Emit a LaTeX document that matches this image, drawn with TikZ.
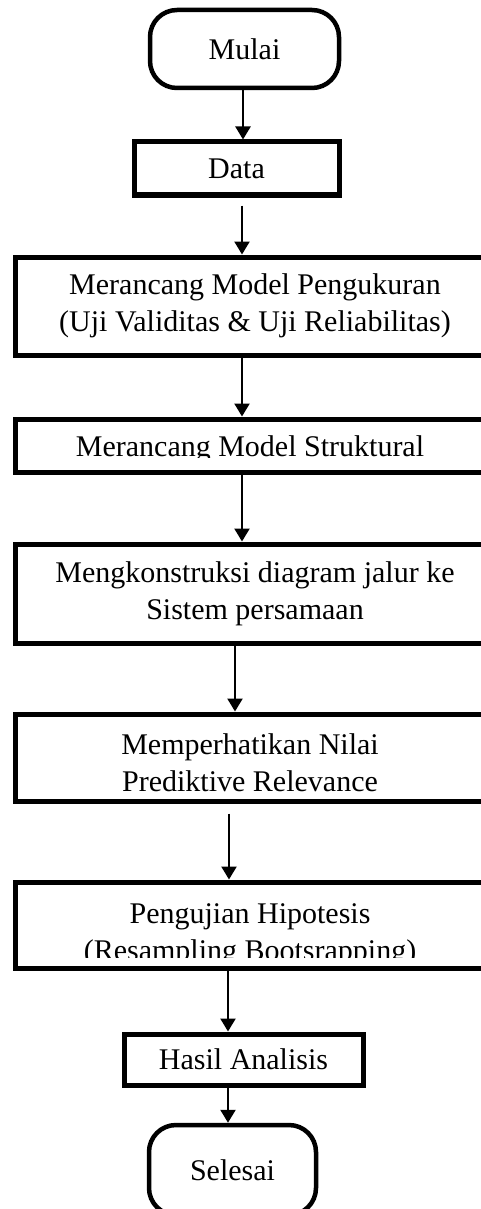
\documentclass[tikz,border=0pt]{standalone}
\usepackage{fontspec}
\setmainfont{Liberation Serif}
\usetikzlibrary{arrows.meta}

\tikzset{
  terminal/.style={draw, line width=4.5pt, rounded corners=27pt, align=center},
  process/.style={draw, line width=5pt, align=center},
  arr/.style={-{Triangle[width=15pt,length=13pt]}, line width=2.3pt},
}

\begin{document}
\begin{tikzpicture}[x=1pt, y=-1pt, font=\fontsize{30}{37}\selectfont]
            \clip (0,0) rectangle (481,1209);
            \fill[white] (0,0) rectangle (481,1209);

            % Start
            \node[terminal, minimum width=189pt, minimum height=78pt] (mulai) at (244.5,49) {Mulai};

            % Data
            \node[process, minimum width=205pt, minimum height=53pt] (data) at (236.5,168.5) {Data};

            % Wide process boxes (running off the right edge)
            \node[process, minimum width=480pt, minimum height=98pt] (ukur) at (255,306) {Merancang Model Pengukuran\\(Uji Validitas \& Uji Reliabilitas)};
            \node[process, minimum width=480pt, minimum height=53pt] (struk) at (255,445.5) {};
            \node[process, minimum width=480pt, minimum height=99pt] (konst) at (255,593.5) {Mengkonstruksi diagram jalur ke\\Sistem persamaan};
            \node[process, minimum width=480pt, minimum height=87pt] (prediksi) at (255,757.5) {};
            \node[process, minimum width=480pt, minimum height=86pt] (uji) at (255,925) {};

            % Texts cut off by their boxes
            \node[align=center] (prediksiText) at (250,763) {Memperhatikan Nilai\\Prediktive Relevance};
            \begin{scope}
              \clip (17,421) rectangle (481,457);
              \node (strukText) at (250,449) {Merancang Model Struktural};
            \end{scope}
            \begin{scope}
              \clip (17,884) rectangle (481,957);
              \node[align=center] (ujiText) at (250,935) {Pengujian Hipotesis\\(Resampling Bootsrapping)};
            \end{scope}

            % Result and end
            \node[process, minimum width=239pt, minimum height=51pt] (hasil) at (243.5,1059.5) {Hasil Analisis};
            \node[terminal, minimum width=167pt, minimum height=90pt] (selesai) at (232.5,1170) {Selesai};

            % Arrows
            \draw[arr] ([xshift=-1.5pt]mulai.south) -- ([xshift=6.5pt]data.north);
            \draw[arr, shorten <=8pt] ([xshift=5.5pt]data.south) -- ([xshift=-13pt]ukur.north);
            \draw[arr] ([xshift=-13pt]ukur.south) -- ([xshift=-13pt]struk.north);
            \draw[arr] ([xshift=-13pt]struk.south) -- ([xshift=-13pt]konst.north);
            \draw[arr] ([xshift=-20pt]konst.south) -- ([xshift=-20pt]prediksi.north);
            \draw[arr, shorten <=10pt] ([xshift=-26pt]prediksi.south) -- ([xshift=-26pt]uji.north);
            \draw[arr] ([xshift=-27pt, yshift=4pt]uji.south) -- ([xshift=-15.5pt]hasil.north);
            \draw[arr] ([xshift=-15.5pt]hasil.south) -- ([xshift=-4.5pt]selesai.north);
        \end{tikzpicture}
\end{document}
